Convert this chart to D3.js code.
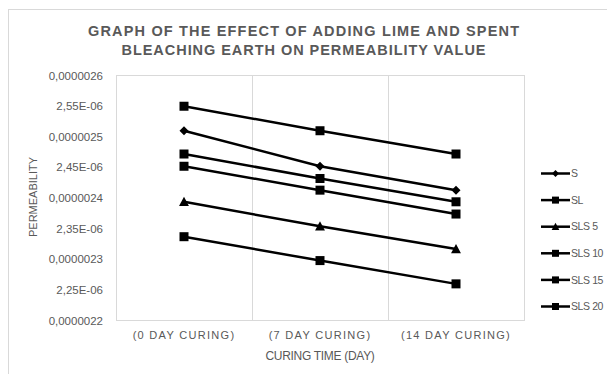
<!DOCTYPE html>
<html><head><meta charset="utf-8">
<script src="https://cdn.jsdelivr.net/npm/d3@7"></script>
<style>body{margin:0;background:#fff}svg{display:block}</style>
</head><body>
<svg id="c" width="607" height="374"></svg>
<script>
const categories = ["(0 DAY CURING)", "(7 DAY CURING)", "(14 DAY CURING)"];
const seriesNames = ["S", "SL", "SLS 5", "SLS 10", "SLS 15", "SLS 20"];
const seriesMarkers = ["diamond", "square", "triangle", "square", "square", "square"];
const S = [2.509e-6, 2.451e-6, 2.412e-6];
const SL = [2.549e-6, 2.509e-6, 2.471e-6];
const SLS5 = [2.393e-6, 2.353e-6, 2.316e-6];
const SLS10 = [2.471e-6, 2.431e-6, 2.393e-6];
const SLS15 = [2.451e-6, 2.412e-6, 2.373e-6];
const SLS20 = [2.336e-6, 2.297e-6, 2.259e-6];
const seriesValues = [S, SL, SLS5, SLS10, SLS15, SLS20];
const yTicks = [2.2e-6, 2.25e-6, 2.3e-6, 2.35e-6, 2.4e-6, 2.45e-6, 2.5e-6, 2.55e-6, 2.6e-6];
const yTickLabels = ["0,0000022", "2,25E-06", "0,0000023", "2,35E-06", "0,0000024", "2,45E-06", "0,0000025", "2,55E-06", "0,0000026"];

const svg = d3.select("#c");
const grey = "#595959", light = "#d9d9d9";
const L = 116, R = 524, T = 75, B = 320;

// outer chart border
svg.append("rect").attr("x", 8.5).attr("y", 9.5).attr("width", 640).attr("height", 400)
  .attr("fill", "#fff").attr("stroke", light);

const x = d3.scaleBand().domain(categories).range([L, R]);
const y = d3.scaleLinear().domain([2.2e-6, 2.6e-6]).range([B, T]);

// plot border
svg.append("rect").attr("x", L + 0.5).attr("y", T + 0.5).attr("width", R - L).attr("height", B - T)
  .attr("fill", "none").attr("stroke", light);

// vertical gridlines at category boundaries
svg.append("g").selectAll("line").data(categories.slice(1)).join("line")
  .attr("x1", d => Math.round(x(d)) + 0.5).attr("x2", d => Math.round(x(d)) + 0.5)
  .attr("y1", T).attr("y2", B).attr("stroke", light);

// y axis labels
const yAxis = d3.axisLeft(y).tickValues(yTicks).tickSize(0).tickPadding(0)
  .tickFormat((d, i) => yTickLabels[i]);
const gy = svg.append("g").attr("transform", `translate(${L - 13},0)`).call(yAxis);
gy.select(".domain").remove();
gy.selectAll("text").attr("fill", grey).style("font", "11.5px 'Liberation Sans', Arial, sans-serif")
  .attr("dy", "0.35em");

// x axis labels
const xAxis = d3.axisBottom(x).tickSize(0).tickPadding(0);
const gx = svg.append("g").attr("transform", `translate(0,${B})`).call(xAxis);
gx.select(".domain").remove();
gx.selectAll("text").attr("fill", grey).attr("dy", 0).attr("y", 19)
  .style("font", "11px 'Liberation Sans', Arial, sans-serif")
  .style("letter-spacing", "1.3px");

// axis titles
svg.append("text").attr("x", 320).attr("y", 360).attr("text-anchor", "middle")
  .attr("fill", grey).style("font", "12px 'Liberation Sans', Arial, sans-serif").style("letter-spacing", "-0.3px")
  .text("CURING TIME (DAY)");
svg.append("text").attr("transform", "translate(37,197) rotate(-90)").attr("text-anchor", "middle")
  .attr("fill", grey).style("font", "11px 'Liberation Sans', Arial, sans-serif")
  .text("PERMEABILITY");

// title
const titleLines = ["GRAPH OF THE EFFECT OF ADDING LIME AND SPENT", "BLEACHING EARTH ON PERMEABILITY VALUE"];
const titleWidths = [431, 364];
svg.append("g").selectAll("text").data(titleLines).join("text")
  .attr("x", 303.5).attr("y", (d, i) => 36 + i * 18.6).attr("text-anchor", "middle")
  .attr("fill", grey).style("font", "bold 14.5px 'Liberation Sans', Arial, sans-serif")
  .attr("textLength", (d, i) => titleWidths[i]).attr("lengthAdjust", "spacing")
  .text(d => d);

// markers
function marker(sel, type, size) {
  if (type === "square") {
    sel.append("rect").attr("x", -size / 2).attr("y", -size / 2).attr("width", size).attr("height", size).attr("fill", "#000");
  } else if (type === "diamond") {
    const s = size * 0.5;
    sel.append("path").attr("d", `M0,${-s}L${s},0L0,${s}L${-s},0Z`).attr("fill", "#000");
  } else {
    const s = size * 0.55;
    sel.append("path").attr("d", `M0,${-s}L${s},${s * 0.85}L${-s},${s * 0.85}Z`).attr("fill", "#000");
  }
}

const line = d3.line().x((d, i) => x(categories[i]) + x.bandwidth() / 2).y(d => y(d));
seriesValues.forEach((vals, si) => {
  svg.append("path").attr("d", line(vals)).attr("fill", "none").attr("stroke", "#000").attr("stroke-width", 2.5);
  vals.forEach((v, i) => {
    const g = svg.append("g").attr("transform", `translate(${x(categories[i]) + x.bandwidth() / 2},${y(v)})`);
    marker(g, seriesMarkers[si], 9);
  });
});

// legend
const lg = svg.append("g");
seriesNames.forEach((n, i) => {
  const yy = 173.5 + i * 26.6;
  lg.append("line").attr("x1", 541).attr("x2", 570).attr("y1", yy).attr("y2", yy).attr("stroke", "#000").attr("stroke-width", 2.5);
  const g = lg.append("g").attr("transform", `translate(555.5,${yy})`);
  marker(g, seriesMarkers[i], 7);
  lg.append("text").attr("x", 571).attr("y", yy).attr("dy", "0.35em").attr("fill", grey)
    .style("font", "10.5px 'Liberation Sans', Arial, sans-serif").style("letter-spacing", "-0.4px").text(n);
});
</script>
</body></html>
